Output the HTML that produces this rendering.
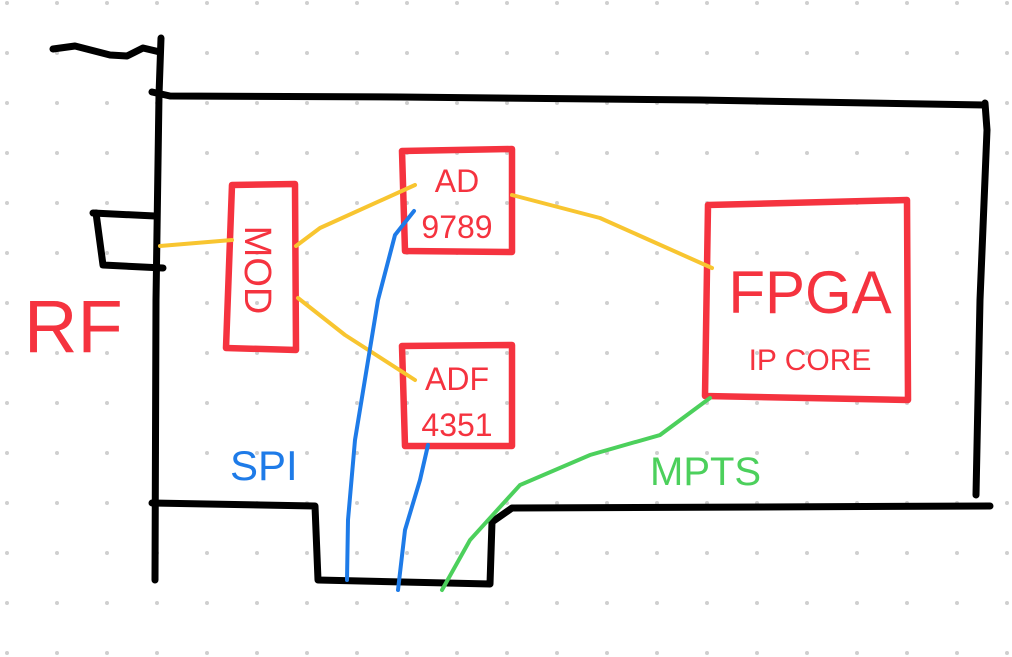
<!DOCTYPE html>
<html><head><meta charset="utf-8"><style>
html,body{margin:0;padding:0;background:#fff;}
svg{display:block}
text{font-family:"Liberation Sans",sans-serif;}
</style></head><body>
<svg width="1012" height="657" viewBox="0 0 1012 657" xmlns="http://www.w3.org/2000/svg">
<defs><pattern id="d" x="0" y="0" width="50" height="50" patternUnits="userSpaceOnUse"><circle cx="7" cy="3" r="2" fill="#cfcfcf"/></pattern></defs>
<rect width="1012" height="657" fill="url(#d)"/>
<g fill="none" stroke="#000" stroke-width="7" stroke-linecap="round" stroke-linejoin="round">
<polyline points="53,49 75,46 110,55 127,56 143,48 160,52"/>
<polyline points="161,38 159,95 156,300 155,580"/>
<polyline points="152,92 170,96 400,97 700,100 985,105"/>
<polyline points="985,103 987,130 980,300 976,495"/>
<polyline points="152,503 315,506 318,580 490,584 492,522 512,508 990,506"/>
<polyline points="93,213 155,216"/>
<polyline points="96,213 103,265 163,268"/>
</g>
<g fill="none" stroke="#f5333f" stroke-width="6.5" stroke-linecap="round" stroke-linejoin="round">
<polygon points="232,185 295,184 296,350 226,348"/>
<polygon points="402,151 512,149 512,252 405,251"/>
<polygon points="402,346 512,345 512,446 405,446"/>
<polygon points="708,205 907,200 908,400 705,396"/>
</g>
<g fill="none" stroke="#f8c530" stroke-width="4" stroke-linecap="round" stroke-linejoin="round">
<polyline points="160,246 232,240"/>
<polyline points="296,246 320,228 415,185"/>
<polyline points="298,298 345,335 415,380"/>
<polyline points="512,195 600,218 712,268"/>
</g>
<g fill="none" stroke="#1e7be8" stroke-width="4" stroke-linecap="round" stroke-linejoin="round">
<polyline points="414,211 395,235 378,300 355,440 348,520 347,580"/>
<polyline points="428,445 420,480 405,530 398,590"/>
</g>
<polyline fill="none" stroke="#4cd05c" stroke-width="4" stroke-linecap="round" points="710,398 660,435 590,455 520,485 470,540 442,590"/>
<g fill="#f5333f">
<text x="24" y="352" font-size="74">RF</text>
<text transform="translate(245,270) rotate(90)" font-size="38" text-anchor="middle">MOD</text>
<text x="457" y="192" font-size="32" text-anchor="middle">AD</text>
<text x="457" y="238" font-size="32" text-anchor="middle">9789</text>
<text x="457" y="390" font-size="32" text-anchor="middle">ADF</text>
<text x="457" y="436" font-size="32" text-anchor="middle">4351</text>
<text x="810" y="313" font-size="60" text-anchor="middle">FPGA</text>
<text x="810" y="370" font-size="30" text-anchor="middle">IP CORE</text>
</g>
<text x="230" y="480" font-size="42" fill="#1e7be8">SPI</text>
<text x="650" y="485" font-size="40" fill="#4cd05c">MPTS</text>
</svg>
</body></html>
